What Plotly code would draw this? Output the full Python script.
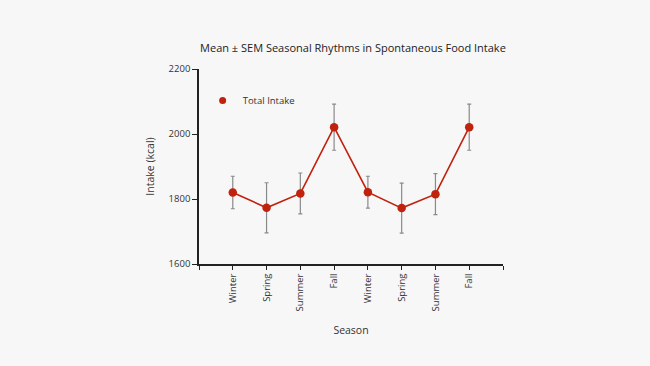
import plotly.graph_objects as go

seasons = ["Winter", "Spring", "Summer", "Fall", "Winter", "Spring", "Summer", "Fall"]
intake_mean = [1820, 1773, 1817, 2021, 1821, 1772, 1815, 2021]
intake_sem = [50, 77, 63, 71, 49, 77, 63, 71]
y_ticks = [1600, 1800, 2000, 2200]

x_pos = list(range(len(seasons)))
font_family = "'Open Sans', Lato, sans-serif"
text_color = "#333333"
red = "#c0220e"

fig = go.Figure()
fig.add_trace(go.Scatter(
    x=x_pos, y=intake_mean,
    mode="lines+markers",
    name="Total Intake",
    showlegend=False,
    line=dict(color=red, width=1.6),
    marker=dict(color=red, size=8.5),
    error_y=dict(type="data", array=intake_sem, visible=True,
                 color="#8a8a8a", thickness=1.2, width=2),
))
# legend entry
fig.add_trace(go.Scatter(
    x=[None], y=[None],
    mode="markers",
    name="Total Intake",
    marker=dict(color=red, size=7, symbol="circle"),
))

fig.update_layout(
    width=650, height=366,
    margin=dict(l=199, r=147, t=69, b=102),
    paper_bgcolor="#f7f7f7",
    plot_bgcolor="#f7f7f7",
    font=dict(family=font_family, color=text_color, size=9.5),
    title=dict(text="Mean ± SEM Seasonal Rhythms in Spontaneous Food Intake",
               x=0.543, xanchor="center", y=0.868, yanchor="middle",
               font=dict(size=11, color="#222222")),
    showlegend=True,
    legend=dict(x=0.012, y=0.838, xanchor="left", yanchor="middle",
                bgcolor="rgba(0,0,0,0)", font=dict(size=9.5, color=text_color)),
)

fig.update_xaxes(
    range=[-1, len(seasons)],
    tickmode="array",
    tickvals=list(range(-1, len(seasons) + 1)),
    ticktext=[""] + seasons + [""],
    tickangle=-90,
    ticks="outside", ticklen=4, tickwidth=1.3, tickcolor="#222",
    showline=True, linecolor="#222", linewidth=1.5,
    showgrid=False, zeroline=False,
    title=dict(text="Season", font=dict(size=10.5), standoff=16),
    tickfont=dict(size=9.5),
)
fig.update_yaxes(
    range=[1600, 2200],
    tickmode="array", tickvals=y_ticks,
    ticks="outside", ticklen=5, tickwidth=1.3, tickcolor="#222",
    showline=True, linecolor="#222", linewidth=1.5,
    showgrid=False, zeroline=False,
    title=dict(text="Intake (kcal)", font=dict(size=10.5), standoff=12),
    tickfont=dict(size=9.5),
)

fig.write_html("out.html", config={"displayModeBar": False},
               post_script="document.body.style.margin='0';")
